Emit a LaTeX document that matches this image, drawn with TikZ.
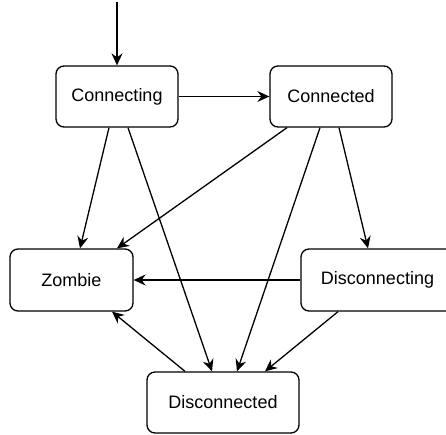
\documentclass[tikz,border=0pt]{standalone}
\usepackage{fontspec}
\setmainfont{Liberation Sans}
\usetikzlibrary{arrows.meta}
\begin{document}
\begin{tikzpicture}[x=1pt,y=-1pt,
  state/.style={draw, line width=1.3pt, rounded corners=8pt, fill=white,
    minimum height=61pt, inner sep=0pt, font=\fontsize{18}{21}\selectfont},
  link/.style={draw, line width=1.3pt,
    -{Stealth[length=12pt,width=11pt,inset=4pt]}}]
  \clip (0,0) rectangle (446,434);
  \useasboundingbox (0,0) rectangle (446,434);

  % states
  \node[state, minimum width=122pt] (cing) at (117,96.5)  {Connecting};
  \node[state, minimum width=122pt] (cted) at (331,96.5)  {Connected};
  \node[state, minimum width=123pt, minimum height=62pt] (zomb) at (71.5,280) {Zombie};
  \node[state, minimum width=153pt, minimum height=62pt] (dcing) at (377.5,280) {Disconnecting};
  \node[state, minimum width=152pt] (dcted) at (223,402.5) {Disconnected};

  % initial transition
  \coordinate (init) at (117,2);
  \draw[link] (init) -- (cing.north);

  % transitions
  \draw[link] (cing.east) -- (cted.west);
  \draw[link] ([xshift=-8pt]cing.south) -- ([xshift=8.5pt]zomb.north);
  \draw[link] ([xshift=11pt]cing.south) -- ([xshift=-11pt]dcted.north);
  \draw[link] ([xshift=-44pt]cted.south) -- ([xshift=45.5pt]zomb.north);
  \draw[link] ([xshift=-11pt]cted.south) -- ([xshift=14pt]dcted.north);
  \draw[link] ([xshift=8pt]cted.south) -- ([xshift=-9.5pt]dcing.north);
  \draw[link] (dcing.west) -- (zomb.east);
  \draw[link] ([xshift=-39.5pt]dcing.south) -- ([xshift=42pt]dcted.north);
  \draw[link] ([xshift=-38pt]dcted.north) -- ([xshift=40.5pt]zomb.south);
\end{tikzpicture}
\end{document}
